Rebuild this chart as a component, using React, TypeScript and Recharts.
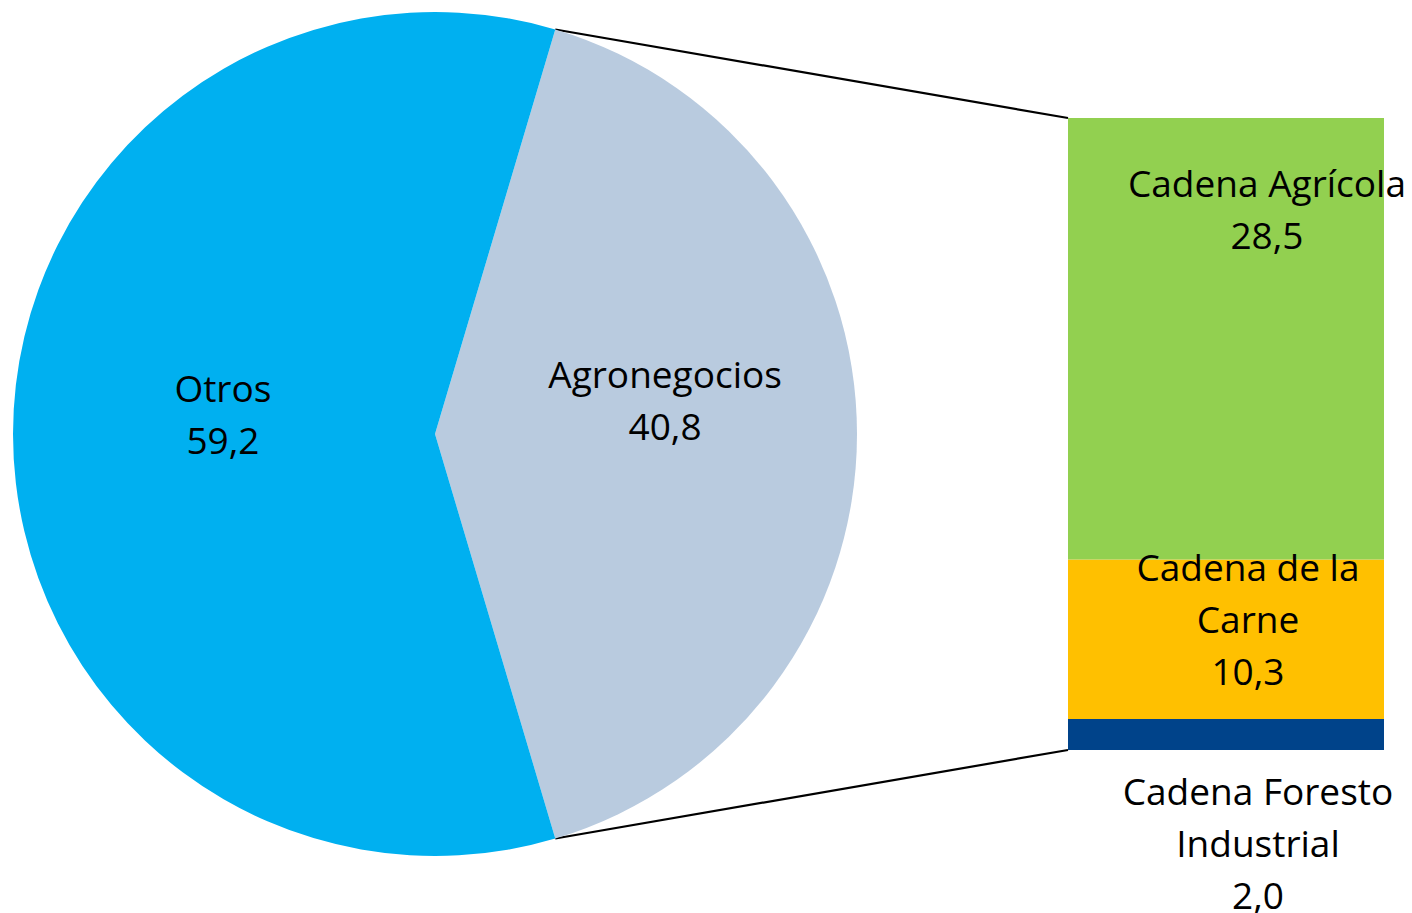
import React from 'react';
import { PieChart, Pie, Cell, BarChart, Bar, XAxis, YAxis, LabelList, Customized } from 'recharts';

// ---- data ----
const PIE_NAMES = ['Agronegocios', 'Otros'];
const PIE_VALUES = [40.8, 59.2];

// stacked bar, bottom to top
const BAR_KEYS = ['foresto', 'carne', 'agricola'];
const BAR_NAMES = ['Cadena Foresto Industrial', 'Cadena de la Carne', 'Cadena Agrícola'];
const BAR_LABEL_LINES = [['Cadena Foresto', 'Industrial'], ['Cadena de la', 'Carne'], ['Cadena Agrícola']];
const BAR_VALUES = [2.0, 10.3, 28.5];

// ---- styles / layout ----
const PIE_COLORS = ['#B9CBDF', '#00B0F0'];
const BAR_COLORS = ['#00438A', '#FFC000', '#92D050'];
const FONT = '"Open Sans", sans-serif';
const FONT_SIZE = 37;
const LINE_H = 52;

const W = 1412;
const H = 913;
const CX = 435;
const CY = 434;
const R = 422;

// bar plot area
const BAR_X = 1068;
const BAR_Y = 118;
const BAR_W = 316;
const BAR_H = 632;
const BAR_SVG_LEFT = 1040;
const BAR_SVG_TOP = 90;

// label offsets (pie: relative to polar anchor; bar: relative to segment)
const PIE_LABEL_OFFSETS = [
  { dx: -2, dy: -46 },
  { dx: 20, dy: -32 },
];
const BAR_LABEL_OFFSETS = [
  { dx: 32, dy: 86 },
  { dx: 22, dy: 22 },
  { dx: 41, dy: 79 },
];

const fmt = (v: number) => v.toFixed(1).replace('.', ',');
const RAD = Math.PI / 180;
const total = PIE_VALUES.reduce((a, b) => a + b, 0);
const firstSweep = (PIE_VALUES[0] / total) * 360;
const START_ANGLE = -firstSweep / 2;
const END_ANGLE = START_ANGLE + 360;

const pieData = PIE_NAMES.map((name, i) => ({ name, value: PIE_VALUES[i] }));
const barRow: Record<string, any> = { name: PIE_NAMES[0] };
BAR_KEYS.forEach((k, i) => {
  barRow[k] = BAR_VALUES[i];
});
const barData = [barRow];
const barTotal = BAR_VALUES.reduce((a, b) => a + b, 0);

const renderPieLabel = (props: any) => {
  const { cx, cy, midAngle, outerRadius, index, name, value } = props;
  const r = outerRadius * 0.55;
  const ax = cx + r * Math.cos(-midAngle * RAD);
  const ay = cy + r * Math.sin(-midAngle * RAD);
  const off = PIE_LABEL_OFFSETS[index];
  const x = ax + off.dx;
  const y = ay + off.dy;
  return (
    <text x={x} y={y} textAnchor="middle" fontFamily={FONT} fontSize={FONT_SIZE} fill="#000">
      <tspan x={x} y={y}>{name}</tspan>
      <tspan x={x} y={y + LINE_H}>{fmt(value)}</tspan>
    </text>
  );
};

const makeBarLabel = (si: number) => (props: any) => {
  const { x, y, width } = props;
  const off = BAR_LABEL_OFFSETS[si];
  const lx = Number(x) + Number(width) / 2 + off.dx;
  const ly = Number(y) + off.dy;
  const lines = [...BAR_LABEL_LINES[si], fmt(BAR_VALUES[si])];
  return (
    <text x={lx} y={ly} textAnchor="middle" fontFamily={FONT} fontSize={FONT_SIZE} fill="#000">
      {lines.map((t, i) => (
        <tspan key={i} x={lx} y={ly + i * LINE_H}>{t}</tspan>
      ))}
    </text>
  );
};

const Connectors = () => {
  const aTop = (firstSweep / 2) * RAD;
  const pTop = { x: CX + R * Math.cos(aTop), y: CY - R * Math.sin(aTop) };
  const pBot = { x: CX + R * Math.cos(aTop), y: CY + R * Math.sin(aTop) };
  return (
    <g>
      <line x1={pTop.x} y1={pTop.y} x2={BAR_X} y2={BAR_Y} stroke="#000" strokeWidth={2.2} />
      <line x1={pBot.x} y1={pBot.y} x2={BAR_X} y2={BAR_Y + BAR_H} stroke="#000" strokeWidth={2.2} />
    </g>
  );
};

export default function App() {
  const barSvgW = W - BAR_SVG_LEFT;
  const barSvgH = H - BAR_SVG_TOP;
  const margin = {
    left: BAR_X - BAR_SVG_LEFT,
    top: BAR_Y - BAR_SVG_TOP,
    right: barSvgW - (BAR_X - BAR_SVG_LEFT) - BAR_W,
    bottom: barSvgH - (BAR_Y - BAR_SVG_TOP) - BAR_H,
  };
  return (
    <div style={{ position: 'absolute', left: 0, top: 0, width: W, height: H, background: '#fff', fontFamily: FONT }}>
      <div style={{ position: 'absolute', left: 0, top: 0 }}>
        <PieChart width={W} height={H} margin={{ top: 0, left: 0, right: 0, bottom: 0 }}>
          <Pie
            data={pieData}
            dataKey="value"
            nameKey="name"
            cx={CX}
            cy={CY}
            outerRadius={R}
            startAngle={START_ANGLE}
            endAngle={END_ANGLE}
            stroke="none"
            label={renderPieLabel}
            labelLine={false}
            isAnimationActive={false}
          >
            {pieData.map((d, i) => (
              <Cell key={d.name} fill={PIE_COLORS[i]} stroke="none" />
            ))}
          </Pie>
          <Customized component={Connectors} />
        </PieChart>
      </div>
      <div style={{ position: 'absolute', left: BAR_SVG_LEFT, top: BAR_SVG_TOP }}>
        <BarChart width={barSvgW} height={barSvgH} data={barData} margin={margin} barCategoryGap={0} barGap={0}>
          <XAxis dataKey="name" hide />
          <YAxis type="number" domain={[0, barTotal]} hide />
          {BAR_KEYS.map((k, i) => (
            <Bar key={k} dataKey={k} name={BAR_NAMES[i]} stackId="a" fill={BAR_COLORS[i]} isAnimationActive={false}>
              <LabelList dataKey={k} content={makeBarLabel(i)} />
            </Bar>
          ))}
        </BarChart>
      </div>
    </div>
  );
}
